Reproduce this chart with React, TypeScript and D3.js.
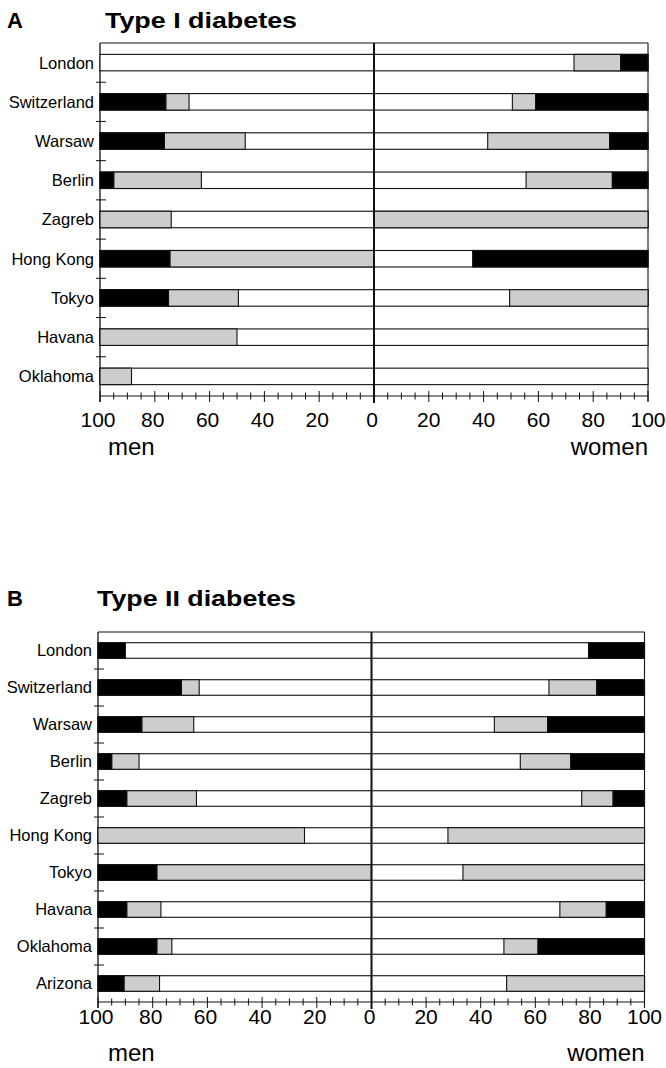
import React from 'react';
import * as d3 from 'd3';

// Panel A - Type I diabetes (percent of subjects; black / grey, rest white)
const citiesA = ['London', 'Switzerland', 'Warsaw', 'Berlin', 'Zagreb', 'Hong Kong', 'Tokyo', 'Havana', 'Oklahoma'];
const menBlackA = [0, 24, 23.5, 5, 0, 25.5, 25, 0, 0];
const menGreyA = [0, 8.5, 29.5, 32, 26, 74.5, 25.5, 50, 11.5];
const womenBlackA = [10, 41, 14, 13, 0, 64, 0, 0, 0];
const womenGreyA = [17, 8.5, 44.5, 31.5, 100, 0, 50.5, 0, 0];

// Panel B - Type II diabetes
const citiesB = ['London', 'Switzerland', 'Warsaw', 'Berlin', 'Zagreb', 'Hong Kong', 'Tokyo', 'Havana', 'Oklahoma', 'Arizona'];
const menBlackB = [10, 30.5, 16, 5, 10.5, 0, 21.5, 10.5, 21.5, 9.5];
const menGreyB = [0, 6.5, 19, 10, 25.5, 75.5, 78.5, 12.5, 5.5, 13];
const womenBlackB = [20.5, 17.5, 35.5, 27, 11.5, 0, 0, 14, 39, 0];
const womenGreyB = [0, 17.5, 19.5, 18.5, 11.5, 72, 66.5, 17, 12.5, 50.5];

const tickValues = d3.range(0, 101, 5);
const tickLabels = [0, 20, 40, 60, 80, 100];

const GREY = '#cdcdcd';
const INK = '#111';
const FONT = '"Liberation Sans", Arial, Helvetica, sans-serif';

type PanelProps = {
  letter: string;
  title: string;
  titleX: number;
  titleY: number;
  titleLen: number;
  cities: string[];
  menBlack: number[];
  menGrey: number[];
  womenBlack: number[];
  womenGrey: number[];
  left: number;
  center: number;
  right: number;
  top: number;
  axisY: number;
  labelDy: number;
};

const Panel = (p: PanelProps) => {
  const xMen = d3.scaleLinear().domain([100, 0]).range([p.left, p.center]);
  const xWomen = d3.scaleLinear().domain([0, 100]).range([p.center, p.right]);
  const y = d3.scaleBand().domain(p.cities).range([p.top, p.axisY]).padding(0);
  const bw = y.bandwidth();
  const bh = bw * 0.42;
  const off = (bw - bh) / 2;

  const seg = (x0: number, x1: number, yy: number, fill: string, key: string) => (
    <rect key={key} x={Math.min(x0, x1)} y={yy} width={Math.abs(x1 - x0)} height={bh}
      fill={fill} stroke={INK} strokeWidth={1.1} />
  );

  return (
    <g>
      <text x={7} y={p.titleY} fontFamily={FONT} fontWeight="bold" fontSize={22}>{p.letter}</text>
      <text x={p.titleX} y={p.titleY} fontFamily={FONT} fontWeight="bold" fontSize={22}
        textLength={p.titleLen} lengthAdjust="spacingAndGlyphs">{p.title}</text>

      {/* frame */}
      <line x1={p.left} x2={p.right} y1={p.top} y2={p.top} stroke={INK} strokeWidth={1.1} />
      <line x1={p.left} x2={p.left} y1={p.top} y2={p.axisY + 6} stroke={INK} strokeWidth={1.3} />
      <line x1={p.right} x2={p.right} y1={p.top} y2={p.axisY + 5} stroke={INK} strokeWidth={1.1} />

      {/* row separators on left axis */}
      {p.cities.slice(1).map(c => (
        <line key={'t' + c} x1={p.left - 4} x2={p.left + 6} y1={y(c)} y2={y(c)} stroke={INK} strokeWidth={1} />
      ))}

      {p.cities.map((c, i) => {
        const yy = (y(c) as number) + off;
        const mb = p.menBlack[i], mg = p.menGrey[i];
        const wb = p.womenBlack[i], wg = p.womenGrey[i];
        return (
          <g key={c}>
            <text x={p.left - 6} y={yy + bh / 2} dy="0.36em" textAnchor="end" fontFamily={FONT} fontSize={16.5}>{c}</text>
            {seg(xMen(100), xMen(0), yy, '#fff', 'mw')}
            {mg > 0 && seg(xMen(100 - mb), xMen(100 - mb - mg), yy, GREY, 'mg')}
            {mb > 0 && seg(xMen(100), xMen(100 - mb), yy, '#000', 'mb')}
            {seg(xWomen(0), xWomen(100), yy, '#fff', 'ww')}
            {wg > 0 && seg(xWomen(100 - wb - wg), xWomen(100 - wb), yy, GREY, 'wg')}
            {wb > 0 && seg(xWomen(100 - wb), xWomen(100), yy, '#000', 'wb')}
          </g>
        );
      })}

      {/* centre line */}
      <line x1={p.center} x2={p.center} y1={p.top} y2={p.axisY + 7} stroke={INK} strokeWidth={2} />

      {/* bottom axis */}
      <line x1={p.left} x2={p.right} y1={p.axisY} y2={p.axisY} stroke={INK} strokeWidth={1.1} />
      {[xMen, xWomen].map((sc, k) => (
        <g key={'ax' + k}>
          {tickValues.map(v => {
            const major = v % 20 === 0;
            return (
              <line key={v} x1={sc(v)} x2={sc(v)} y1={p.axisY - (major ? 5 : 3.5)} y2={p.axisY + (major ? 6 : 3.5)}
                stroke={INK} strokeWidth={1} />
            );
          })}
          {tickLabels.filter(v => !(k === 1 && v === 0)).map(v => (
            <text key={'l' + v} x={sc(v) - (k === 0 ? 2 : 0)} y={p.axisY + p.labelDy} textAnchor="middle"
              fontFamily={FONT} fontSize={21}>{v}</text>
          ))}
        </g>
      ))}
      <text x={108} y={p.axisY + 59} fontFamily={FONT} fontSize={24}>men</text>
      <text x={p.right} y={p.axisY + 59} textAnchor="end" fontFamily={FONT} fontSize={24}>women</text>
    </g>
  );
};

export default function App() {
  return (
    <svg width={666} height={1068} style={{ position: 'absolute', left: 0, top: 0, background: '#fff' }}>
      <Panel letter="A" title="Type I diabetes" titleX={105} titleY={28} titleLen={192}
        cities={citiesA} menBlack={menBlackA} menGrey={menGreyA} womenBlack={womenBlackA} womenGrey={womenGreyA}
        left={100} center={374} right={648} top={43} axisY={396} labelDy={31} />
      <Panel letter="B" title="Type II diabetes" titleX={97} titleY={606} titleLen={199}
        cities={citiesB} menBlack={menBlackB} menGrey={menGreyB} womenBlack={womenBlackB} womenGrey={womenGreyB}
        left={98} center={371.5} right={644.5} top={632} axisY={1002} labelDy={22} />
    </svg>
  );
}
